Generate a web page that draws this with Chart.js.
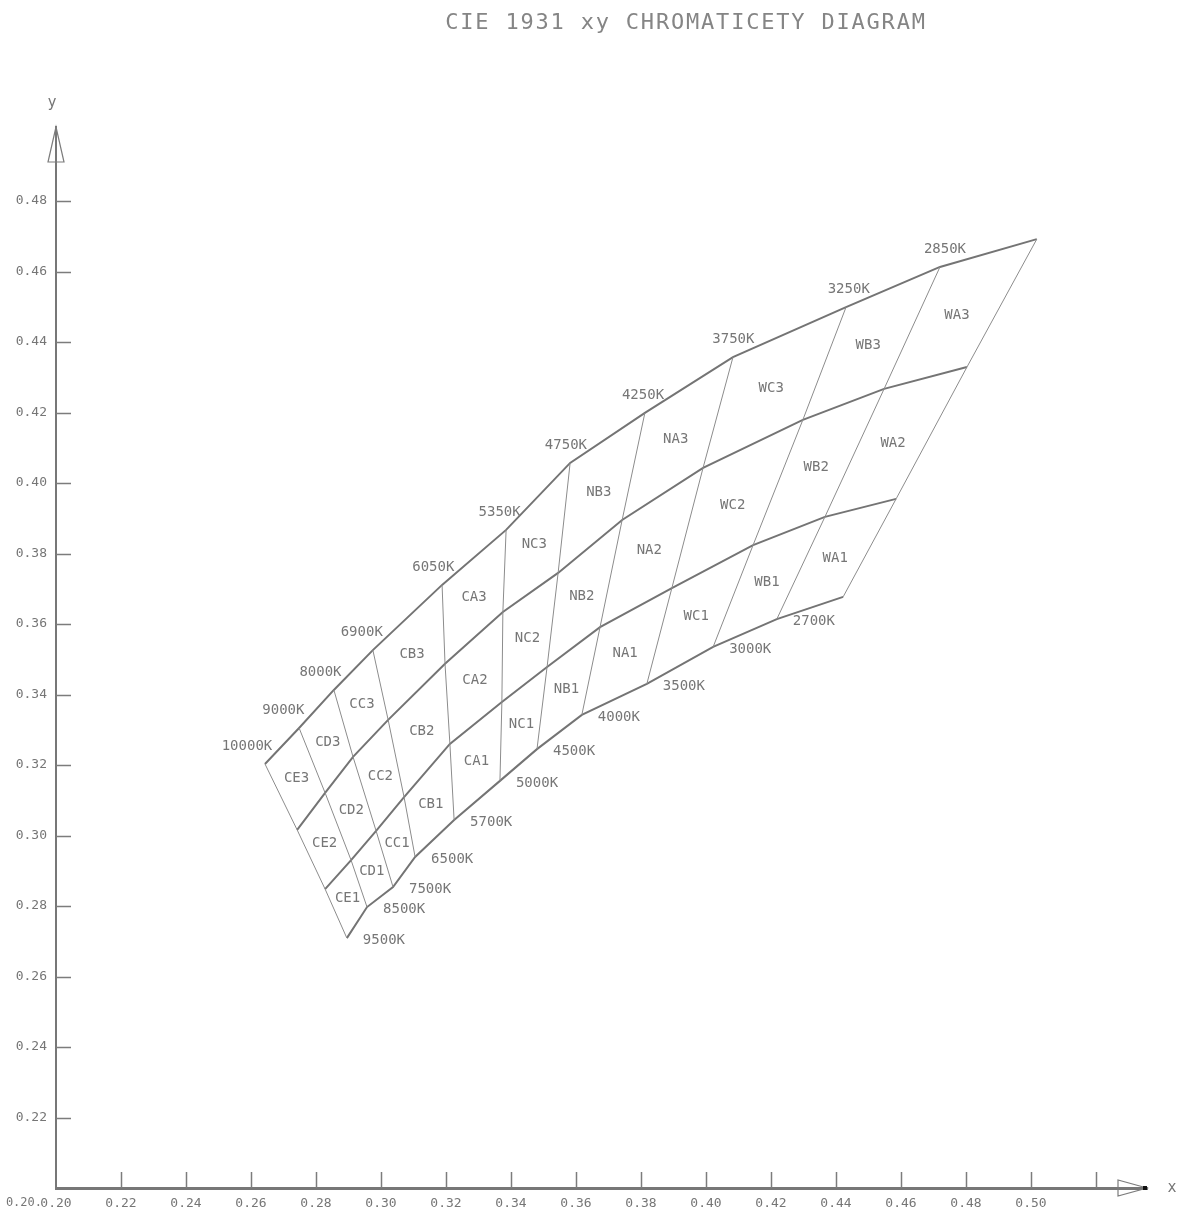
<!DOCTYPE html>
<html>
<head>
<meta charset="utf-8">
<script src="https://cdn.jsdelivr.net/npm/chart.js@4.4.0/dist/chart.umd.min.js"></script>
<style>
  html, body { margin: 0; padding: 0; background: #fff; }
  #wrap { width: 1184px; height: 1218px; position: relative; }
</style>
</head>
<body>
<div id="wrap"><canvas id="c"></canvas></div>
<script>
// Binning grid on the CIE 1931 xy plane: four loci (top to bottom), twelve vertices each (left to right).
const topLocusX    = [0.2643, 0.2748, 0.2855, 0.2975, 0.3188, 0.3385, 0.3582, 0.3812, 0.4083, 0.4431, 0.4720, 0.5018];
const topLocusY    = [0.3203, 0.3305, 0.3413, 0.3526, 0.3711, 0.3867, 0.4057, 0.4199, 0.4357, 0.4499, 0.4613, 0.4692];
const upperLocusX  = [0.2742, 0.2828, 0.2914, 0.3022, 0.3197, 0.3375, 0.3545, 0.3742, 0.3991, 0.4298, 0.4548, 0.4803];
const upperLocusY  = [0.3016, 0.3121, 0.3223, 0.3328, 0.3487, 0.3634, 0.3745, 0.3895, 0.4043, 0.4179, 0.4267, 0.4329];
const lowerLocusX  = [0.2828, 0.2908, 0.2985, 0.3071, 0.3212, 0.3372, 0.3511, 0.3674, 0.3895, 0.4145, 0.4366, 0.4585];
const lowerLocusY  = [0.2848, 0.2930, 0.3013, 0.3109, 0.3260, 0.3379, 0.3478, 0.3591, 0.3702, 0.3824, 0.3904, 0.3955];
const bottomLocusX = [0.2895, 0.2957, 0.3037, 0.3105, 0.3225, 0.3366, 0.3480, 0.3618, 0.3818, 0.4022, 0.4218, 0.4422];
const bottomLocusY = [0.2709, 0.2797, 0.2854, 0.2939, 0.3044, 0.3155, 0.3245, 0.3342, 0.3430, 0.3535, 0.3614, 0.3677];

// Colour temperatures written at the vertices of the top and bottom loci.
const topCCT    = ['10000K', '9000K', '8000K', '6900K', '6050K', '5350K', '4750K', '4250K', '3750K', '3250K', '2850K'];
const bottomCCT = ['9500K', '8500K', '7500K', '6500K', '5700K', '5000K', '4500K', '4000K', '3500K', '3000K', '2700K'];

// Bin names: family per column, level per row (rows listed top to bottom).
const binFamilies = ['CE', 'CD', 'CC', 'CB', 'CA', 'NC', 'NB', 'NA', 'WC', 'WB', 'WA'];
const binLevels   = ['3', '2', '1'];

// Axis ticks.
const xTicks      = [0.20, 0.22, 0.24, 0.26, 0.28, 0.30, 0.32, 0.34, 0.36, 0.38, 0.40, 0.42, 0.44, 0.46, 0.48, 0.50, 0.52];
const xTickLabels = ['0.20', '0.22', '0.24', '0.26', '0.28', '0.30', '0.32', '0.34', '0.36', '0.38', '0.40', '0.42', '0.44', '0.46', '0.48', '0.50', ''];
const yTicks      = [0.22, 0.24, 0.26, 0.28, 0.30, 0.32, 0.34, 0.36, 0.38, 0.40, 0.42, 0.44, 0.46, 0.48];
const yTickLabels = ['0.22', '0.24', '0.26', '0.28', '0.30', '0.32', '0.34', '0.36', '0.38', '0.40', '0.42', '0.44', '0.46', '0.48'];
const originLabel = '0.20.';

const TITLE = 'CIE 1931 xy CHROMATICETY DIAGRAM';
const INK = '#767676';
const MONO = '"DejaVu Sans Mono", monospace';

const loci = [
  [topLocusX, topLocusY],
  [upperLocusX, upperLocusY],
  [lowerLocusX, lowerLocusY],
  [bottomLocusX, bottomLocusY]
];

const datasets = [];
// Cross lines joining matching vertices of the four loci.
for (let j = 0; j < topLocusX.length; j++) {
  datasets.push({
    data: loci.map(([xs, ys]) => ({ x: xs[j], y: ys[j] })),
    borderColor: '#8c8c8c',
    borderWidth: 1
  });
}
// The loci themselves.
loci.forEach(([xs, ys]) => {
  datasets.push({
    data: xs.map((v, i) => ({ x: v, y: ys[i] })),
    borderColor: '#747474',
    borderWidth: 2
  });
});

const gridText = {
  id: 'gridText',
  afterDatasetsDraw(chart) {
    const { ctx, scales: { x, y } } = chart;
    const px = v => x.getPixelForValue(v);
    const py = v => y.getPixelForValue(v);
    ctx.save();
    ctx.fillStyle = INK;
    ctx.textBaseline = 'middle';

    // Bin names at the centre of each quadrangle.
    ctx.font = '14px ' + MONO;
    ctx.textAlign = 'center';
    for (let r = 0; r < 3; r++) {
      const [ax, ay] = loci[r];
      const [bx, by] = loci[r + 1];
      binFamilies.forEach((fam, j) => {
        const cx = (ax[j] + ax[j + 1] + bx[j] + bx[j + 1]) / 4;
        const cy = (ay[j] + ay[j + 1] + by[j] + by[j + 1]) / 4;
        ctx.fillText(fam + binLevels[r], px(cx), py(cy));
      });
    }

    // Colour temperatures.
    ctx.font = '14px ' + MONO;
    ctx.textAlign = 'center';
    topCCT.forEach((t, i) => {
      ctx.fillText(t, px(topLocusX[i]) - 18 + 2.3 * i, py(topLocusY[i]) - 18);
    });
    ctx.textAlign = 'left';
    bottomCCT.forEach((t, i) => {
      ctx.fillText(t, px(bottomLocusX[i]) + 16, py(bottomLocusY[i]) + 2);
    });
    ctx.restore();
  }
};

const axisDecor = {
  id: 'axisDecor',
  afterDraw(chart) {
    const { ctx, chartArea: a, scales: { x, y } } = chart;
    ctx.save();
    ctx.strokeStyle = '#7c7c7c';
    ctx.lineWidth = 1.5;

    // Tick marks drawn inward from both axes.
    ctx.beginPath();
    xTicks.forEach(v => {
      if (v <= x.min) return;
      const p = Math.round(x.getPixelForValue(v)) + 0.5;
      ctx.moveTo(p, a.bottom);
      ctx.lineTo(p, a.bottom - 16);
    });
    yTicks.forEach(v => {
      const p = Math.round(y.getPixelForValue(v)) + 0.5;
      ctx.moveTo(a.left, p);
      ctx.lineTo(a.left + 15, p);
    });
    ctx.stroke();

    // Open arrow heads at the axis ends.
    ctx.lineWidth = 1.2;
    ctx.beginPath();
    ctx.moveTo(a.left, a.top);
    ctx.lineTo(a.left - 8, a.top + 35);
    ctx.lineTo(a.left + 8, a.top + 35);
    ctx.closePath();
    ctx.moveTo(a.right, a.bottom);
    ctx.lineTo(a.right - 29, a.bottom - 8);
    ctx.lineTo(a.right - 29, a.bottom + 8);
    ctx.closePath();
    ctx.stroke();
    ctx.fillStyle = '#111';
    ctx.fillRect(a.right - 4, a.bottom - 2, 4, 4);

    // Axis names.
    ctx.fillStyle = INK;
    ctx.font = '15px ' + MONO;
    ctx.textAlign = 'center';
    ctx.textBaseline = 'middle';
    ctx.fillText('y', a.left - 4, a.top - 24);
    ctx.fillText('x', a.right + 25, a.bottom);

    // Origin value of the y axis, sharing the x label row.
    ctx.font = '12px ' + MONO;
    ctx.textAlign = 'right';
    ctx.fillText(originLabel, a.left - 14, a.bottom + 15);

    // Title.
    ctx.fillStyle = '#858585';
    ctx.font = '22px ' + MONO;
    ctx.textAlign = 'center';
    ctx.letterSpacing = '1.8px';
    ctx.fillText(TITLE, 686, 23);
    ctx.restore();
  }
};

new Chart(document.getElementById('c'), {
  type: 'scatter',
  data: { datasets },
  options: {
    responsive: true,
    maintainAspectRatio: false,
    animation: false,
    showLine: true,
    elements: {
      point: { radius: 0, hoverRadius: 0 },
      line: { tension: 0, fill: false }
    },
    layout: { padding: { top: 127, right: 37, left: 0, bottom: 0 } },
    plugins: {
      legend: { display: false },
      tooltip: { enabled: false },
      title: { display: false }
    },
    scales: {
      x: {
        type: 'linear',
        min: 0.20,
        max: 0.5357,
        afterBuildTicks: s => { s.ticks = xTicks.map(v => ({ value: v })); },
        afterFit: s => { s.height = 30; },
        grid: { display: false, drawTicks: false },
        border: { display: true, color: '#777', width: 3 },
        ticks: {
          padding: 8,
          maxRotation: 0,
          autoSkip: false,
          color: INK,
          font: { family: MONO, size: 13 },
          callback: (v, i) => xTickLabels[i]
        }
      },
      y: {
        type: 'linear',
        min: 0.20,
        max: 0.501,
        afterBuildTicks: s => { s.ticks = yTicks.map(v => ({ value: v })); },
        afterFit: s => { s.width = 56; },
        grid: { display: false, drawTicks: false },
        border: { display: true, color: '#777', width: 2 },
        ticks: {
          padding: 9,
          autoSkip: false,
          color: INK,
          font: { family: MONO, size: 13 },
          callback: (v, i) => yTickLabels[i]
        }
      }
    }
  },
  plugins: [gridText, axisDecor]
});
</script>
</body>
</html>
